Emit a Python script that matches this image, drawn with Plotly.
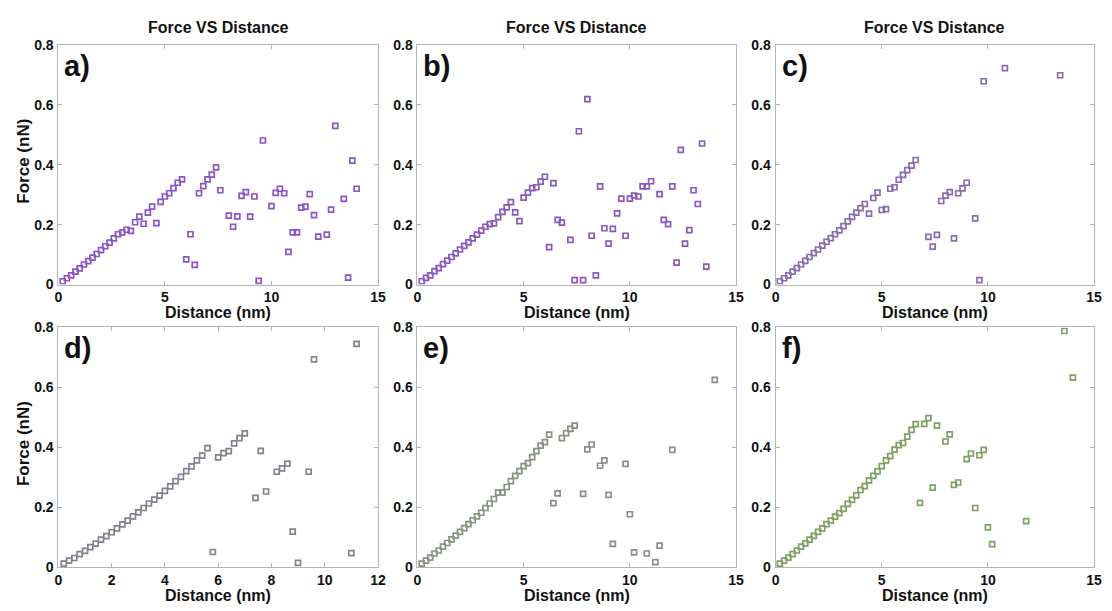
import plotly.graph_objects as go

# ---- data (Distance nm, Force nN) ----
xa = [0.2,0.4,0.6,0.8,1.0,1.2,1.4,1.6,1.8,2.0,2.2,2.4,2.6,2.8,3.0,3.2,3.4,3.6,3.8,4.0,4.2,4.4,4.6,4.8,5.0,5.2,5.4,5.6,5.8,
      6.0,6.2,6.4,6.6,6.8,7.0,7.2,7.4,7.6,8.0,8.2,8.4,8.6,8.8,9.0,9.2,9.4,9.6,10.0,10.2,10.4,10.6,10.8,11.0,11.2,11.4,11.6,
      11.8,12.0,12.2,12.6,12.8,13.0,13.4,13.6,13.8,14.0]
ya = [0.011,0.021,0.031,0.043,0.054,0.067,0.078,0.090,0.102,0.115,0.128,0.140,0.154,0.168,0.174,0.183,0.179,0.208,0.227,0.203,
      0.240,0.260,0.205,0.276,0.294,0.305,0.322,0.340,0.351,0.084,0.168,0.066,0.305,0.329,0.351,0.367,0.391,0.315,0.230,0.193,
      0.228,0.296,0.309,0.227,0.294,0.012,0.481,0.262,0.306,0.320,0.305,0.109,0.174,0.174,0.257,0.260,0.302,0.232,0.160,0.167,
      0.250,0.530,0.286,0.023,0.414,0.320]

xb = [0.2,0.4,0.6,0.8,1.0,1.2,1.4,1.6,1.8,2.0,2.2,2.4,2.6,2.8,3.0,3.2,3.4,3.6,3.8,4.0,4.2,4.4,4.6,4.8,5.0,5.2,5.4,5.6,5.8,6.0,
      6.2,6.4,6.6,6.8,7.2,7.4,7.6,7.8,8.0,8.2,8.4,8.6,8.8,9.0,9.2,9.4,9.6,9.8,10.0,10.2,10.4,10.6,10.8,11.0,11.4,11.6,11.8,
      12.0,12.2,12.4,12.6,12.8,13.0,13.2,13.4,13.6]
yb = [0.011,0.022,0.031,0.045,0.055,0.068,0.080,0.092,0.104,0.117,0.129,0.141,0.154,0.167,0.180,0.193,0.202,0.204,0.225,0.243,
      0.258,0.275,0.241,0.212,0.290,0.307,0.322,0.325,0.344,0.360,0.125,0.339,0.216,0.207,0.149,0.015,0.512,0.015,0.619,0.163,
      0.031,0.328,0.188,0.137,0.186,0.238,0.287,0.163,0.287,0.297,0.294,0.328,0.328,0.345,0.302,0.216,0.202,0.328,0.073,0.450,
      0.137,0.182,0.315,0.269,0.471,0.060]

xc = [0.2,0.4,0.6,0.8,1.0,1.2,1.4,1.6,1.8,2.0,2.2,2.4,2.6,2.8,3.0,3.2,3.4,3.6,3.8,4.0,4.2,4.4,4.6,4.8,5.0,5.2,5.4,5.6,5.8,6.0,
      6.2,6.4,6.6,7.2,7.4,7.6,7.8,8.0,8.2,8.4,8.6,8.8,9.0,9.4,9.6,9.8,10.8,13.4]
yc = [0.011,0.021,0.031,0.043,0.055,0.067,0.079,0.092,0.105,0.117,0.130,0.143,0.155,0.168,0.181,0.195,0.211,0.226,0.240,0.255,
      0.269,0.237,0.289,0.307,0.249,0.252,0.320,0.325,0.350,0.366,0.382,0.397,0.416,0.159,0.127,0.166,0.279,0.297,0.309,0.154,
      0.305,0.321,0.340,0.221,0.015,0.679,0.723,0.699]

xd = [0.2,0.4,0.6,0.8,1.0,1.2,1.4,1.6,1.8,2.0,2.2,2.4,2.6,2.8,3.0,3.2,3.4,3.6,3.8,4.0,4.2,4.4,4.6,4.8,5.0,5.2,5.4,5.6,5.8,6.0,
      6.2,6.4,6.6,6.8,7.0,7.4,7.6,7.8,8.2,8.4,8.6,8.8,9.0,9.4,9.6,11.0,11.2]
yd = [0.011,0.021,0.030,0.043,0.054,0.066,0.078,0.091,0.103,0.116,0.129,0.142,0.155,0.169,0.182,0.197,0.212,0.225,0.238,0.254,
      0.269,0.287,0.301,0.320,0.336,0.356,0.372,0.397,0.050,0.366,0.380,0.387,0.413,0.430,0.446,0.231,0.388,0.252,0.318,0.329,
      0.345,0.118,0.014,0.318,0.693,0.046,0.745]

xe = [0.2,0.4,0.6,0.8,1.0,1.2,1.4,1.6,1.8,2.0,2.2,2.4,2.6,2.8,3.0,3.2,3.4,3.6,3.8,4.0,4.2,4.4,4.6,4.8,5.0,5.2,5.4,5.6,5.8,6.0,
      6.2,6.4,6.6,6.8,7.0,7.2,7.4,7.8,8.0,8.2,8.6,8.8,9.0,9.2,9.8,10.0,10.2,10.8,11.2,11.4,12.0,14.0]
ye = [0.011,0.021,0.031,0.045,0.055,0.068,0.080,0.092,0.105,0.117,0.130,0.143,0.156,0.169,0.181,0.197,0.212,0.227,0.248,0.248,
      0.267,0.287,0.304,0.320,0.337,0.347,0.367,0.387,0.405,0.417,0.442,0.213,0.246,0.430,0.447,0.461,0.472,0.244,0.393,0.409,
      0.338,0.356,0.241,0.077,0.344,0.176,0.049,0.045,0.016,0.071,0.391,0.625]

xf = [0.2,0.4,0.6,0.8,1.0,1.2,1.4,1.6,1.8,2.0,2.2,2.4,2.6,2.8,3.0,3.2,3.4,3.6,3.8,4.0,4.2,4.4,4.6,4.8,5.0,5.2,5.4,5.6,5.8,6.0,
      6.2,6.4,6.6,6.8,7.0,7.2,7.4,7.6,8.0,8.2,8.4,8.6,9.0,9.2,9.4,9.6,9.8,10.0,10.2,11.8,13.6,14.0]
yf = [0.011,0.021,0.031,0.043,0.055,0.068,0.079,0.091,0.104,0.117,0.129,0.143,0.155,0.168,0.180,0.194,0.211,0.224,0.239,0.257,
      0.270,0.289,0.304,0.319,0.337,0.356,0.370,0.392,0.407,0.414,0.435,0.458,0.477,0.214,0.478,0.497,0.265,0.472,0.419,0.443,
      0.274,0.282,0.360,0.379,0.197,0.373,0.391,0.132,0.076,0.153,0.788,0.632]

panel_labels = ["a)", "b)", "c)", "d)", "e)", "f)"]
colors = ["#8a55c8", "#8a58c0", "#8a6cae", "#86808f", "#879283", "#7fa064"]
xmax = [15, 15, 15, 12, 15, 15]
xdtick = [5, 5, 5, 2, 5, 5]
series = [(xa, ya), (xb, yb), (xc, yc), (xd, yd), (xe, ye), (xf, yf)]

W, H = 1112, 611
xpix = [(55, 378), (418, 740), (780, 1102)]
ypix = [(38, 284), (328, 574)]

fig = go.Figure()
font_family = "Liberation Sans, Arial, sans-serif"
annotations = []
for i, (xs, ys) in enumerate(series):
    r, c = divmod(i, 3)
    n = "" if i == 0 else str(i + 1)
    fig.add_trace(go.Scatter(
        x=xs, y=ys, mode="markers", xaxis="x" + n, yaxis="y" + n,
        marker=dict(symbol="square-open", size=5, color=colors[i], line=dict(width=1.7, color=colors[i])),
        showlegend=False))
    axcommon = dict(showline=True, linecolor="#b4b4b4", linewidth=1, mirror="ticks",
                    ticks="inside", ticklen=4, tickcolor="#b4b4b4", showgrid=False, zeroline=False,
                    tickfont=dict(family=font_family, size=14, color="#111", weight="bold"))
    fig.layout["xaxis" + n] = dict(axcommon, domain=[xpix[c][0] / W, xpix[c][1] / W],
                                   range=[0, xmax[i]], dtick=xdtick[i], tick0=0,
                                   anchor="y" + n, ticklabelstandoff=0)
    fig.layout["yaxis" + n] = dict(axcommon, domain=[1 - ypix[r][1] / H, 1 - ypix[r][0] / H],
                                   range=[0, 0.8], tickvals=[0, 0.2, 0.4, 0.6, 0.8],
                                   ticktext=["0", "0.2", "0.4", "0.6", "0.8"],
                                   anchor="x" + n, ticklabelstandoff=1)
    # panel label
    annotations.append(dict(text=panel_labels[i], xref="paper", yref="paper",
                            x=(xpix[c][0] + 4) / W, y=1 - (ypix[r][0] + 3) / H,
                            xanchor="left", yanchor="top", showarrow=False,
                            font=dict(family=font_family, size=29, color="#111", weight="bold")))
    # x axis title
    annotations.append(dict(text="Distance (nm)", xref="paper", yref="paper",
                            x=(xpix[c][0] + xpix[c][1]) / 2 / W, y=1 - (ypix[r][1] + 29) / H,
                            xanchor="center", yanchor="middle", showarrow=False,
                            font=dict(family=font_family, size=16, color="#111", weight="bold")))
    if r == 0:
        annotations.append(dict(text="Force VS Distance", xref="paper", yref="paper",
                                x=(xpix[c][0] + xpix[c][1]) / 2 / W, y=1 - 20 / H,
                                xanchor="center", yanchor="middle", showarrow=False,
                                font=dict(family=font_family, size=16, color="#111", weight="bold")))
    if c == 0:
        annotations.append(dict(text="Force (nN)", xref="paper", yref="paper", textangle=-90,
                                x=20 / W, y=1 - ((ypix[r][0] + ypix[r][1]) / 2 - 4) / H,
                                xanchor="center", yanchor="middle", showarrow=False,
                                font=dict(family=font_family, size=17, color="#111", weight="bold")))

fig.update_layout(width=W, height=H, margin=dict(l=0, r=0, t=0, b=0),
                  paper_bgcolor="white", plot_bgcolor="white", annotations=annotations)

fig.write_html("out.html")
